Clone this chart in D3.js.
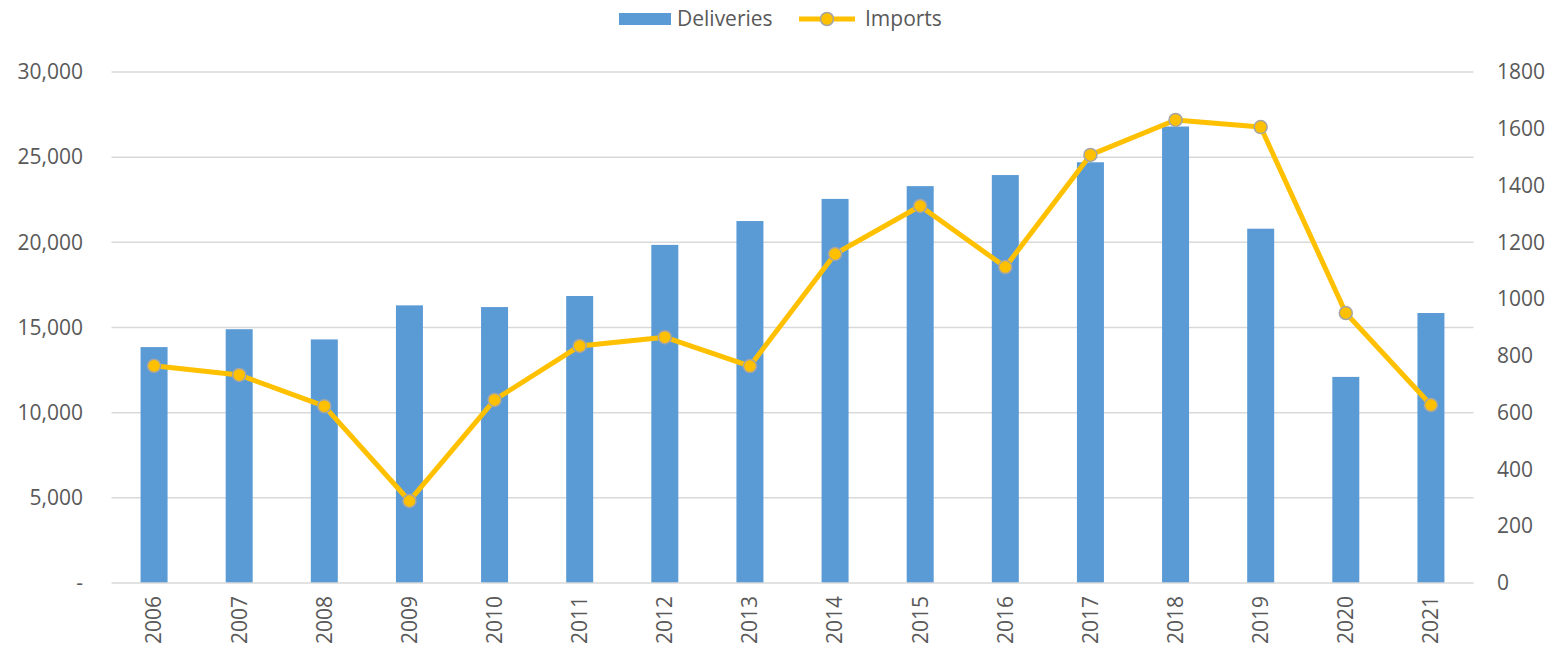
<!DOCTYPE html>
<html>
<head>
<meta charset="utf-8">
<script src="https://cdn.jsdelivr.net/npm/d3@7"></script>
<style>
  body { margin: 0; background: #fff; }
  text { font-family: "Open Sans", "Liberation Sans", sans-serif; fill: #595959; }
</style>
</head>
<body>
<div id="chart"></div>
<script>
// data
var years = ["2006","2007","2008","2009","2010","2011","2012","2013","2014","2015","2016","2017","2018","2019","2020","2021"];
var deliveries = [13850, 14900, 14300, 16300, 16200, 16850, 19850, 21250, 22550, 23300, 23950, 24700, 26800, 20800, 12100, 15850];
var imports = [765, 733, 623, 289, 645, 835, 866, 764, 1159, 1328, 1113, 1508, 1631, 1606, 951, 627];
var leftTicks = [0, 5000, 10000, 15000, 20000, 25000, 30000];
var rightTicks = [0, 200, 400, 600, 800, 1000, 1200, 1400, 1600, 1800];

var width = 1551, height = 651;
var plot = { left: 111.5, right: 1473.5, top: 72, bottom: 583 };
var fs = 21;

var svg = d3.select("#chart").append("svg")
    .attr("width", width)
    .attr("height", height);

var x = d3.scaleBand().domain(years).range([plot.left, plot.right]).paddingInner(0).paddingOuter(0);
var yL = d3.scaleLinear().domain([0, 30000]).range([plot.bottom, plot.top]);
var yR = d3.scaleLinear().domain([0, 1800]).range([plot.bottom, plot.top]);

// gridlines
svg.append("g").selectAll("line")
  .data(leftTicks.filter(function(d) { return d > 0; }))
  .join("line")
    .attr("x1", plot.left).attr("x2", plot.right)
    .attr("y1", function(d) { return yL(d); })
    .attr("y2", function(d) { return yL(d); })
    .attr("stroke", "#d9d9d9").attr("stroke-width", 1.5);

// bars
var barW = 27;
svg.append("g").selectAll("rect")
  .data(years)
  .join("rect")
    .attr("x", function(d) { return x(d) + x.bandwidth() / 2 - barW / 2; })
    .attr("width", barW)
    .attr("y", function(d, i) { return yL(deliveries[i]); })
    .attr("height", function(d, i) { return plot.bottom - yL(deliveries[i]); })
    .attr("fill", "#5b9bd5");

// baseline
svg.append("line")
    .attr("x1", plot.left).attr("x2", plot.right)
    .attr("y1", plot.bottom).attr("y2", plot.bottom)
    .attr("stroke", "#d9d9d9").attr("stroke-width", 1.5);

// left axis
var leftAxis = d3.axisLeft(yL).tickValues(leftTicks).tickSize(0).tickPadding(0)
    .tickFormat(function(d) { return d === 0 ? "-" : d3.format(",")(d); });
var gl = svg.append("g").attr("transform", "translate(83,0)").call(leftAxis);
gl.select(".domain").remove();
gl.selectAll("text").attr("font-size", fs).attr("fill", "#595959")
    .style("font-family", "'Open Sans', sans-serif");

// right axis
var rightAxis = d3.axisRight(yR).tickValues(rightTicks).tickSize(0).tickPadding(0)
    .tickFormat(d3.format("d"));
var gr = svg.append("g").attr("transform", "translate(1497,0)").call(rightAxis);
gr.select(".domain").remove();
gr.selectAll("text").attr("font-size", fs).attr("fill", "#595959")
    .style("font-family", "'Open Sans', sans-serif");

// x axis labels rotated
var xAxis = d3.axisBottom(x).tickSize(0).tickPadding(0);
var gx = svg.append("g").attr("transform", "translate(0," + plot.bottom + ")").call(xAxis);
gx.select(".domain").remove();
gx.selectAll("text")
    .attr("font-size", fs).attr("fill", "#595959")
    .style("font-family", "'Open Sans', sans-serif")
    .attr("text-anchor", "end")
    .attr("dy", "0.35em")
    .attr("transform", "translate(0,13) rotate(-90)")
    .attr("y", 0).attr("x", 0);

// imports line
var line = d3.line()
    .x(function(d, i) { return x(years[i]) + x.bandwidth() / 2; })
    .y(function(d) { return yR(d); });
svg.append("path")
    .datum(imports)
    .attr("d", line)
    .attr("fill", "none")
    .attr("stroke", "#ffc000")
    .attr("stroke-width", 5)
    .attr("stroke-linejoin", "round");

svg.append("g").selectAll("circle")
  .data(imports)
  .join("circle")
    .attr("cx", function(d, i) { return x(years[i]) + x.bandwidth() / 2; })
    .attr("cy", function(d) { return yR(d); })
    .attr("r", 6.5)
    .attr("fill", "#ffc000")
    .attr("stroke", "#a5a5a5")
    .attr("stroke-width", 1.5);

// legend
var lg = svg.append("g");
lg.append("rect").attr("x", 619).attr("y", 13).attr("width", 52).attr("height", 12).attr("fill", "#5b9bd5");
lg.append("text").attr("x", 677).attr("y", 19).attr("dy", "0.35em").attr("font-size", fs).text("Deliveries");
lg.append("line").attr("x1", 799).attr("x2", 855).attr("y1", 19).attr("y2", 19)
    .attr("stroke", "#ffc000").attr("stroke-width", 5);
lg.append("circle").attr("cx", 827).attr("cy", 19).attr("r", 6.5)
    .attr("fill", "#ffc000").attr("stroke", "#a5a5a5").attr("stroke-width", 1.5);
lg.append("text").attr("x", 865).attr("y", 19).attr("dy", "0.35em").attr("font-size", fs).text("Imports");
</script>
</body>
</html>
